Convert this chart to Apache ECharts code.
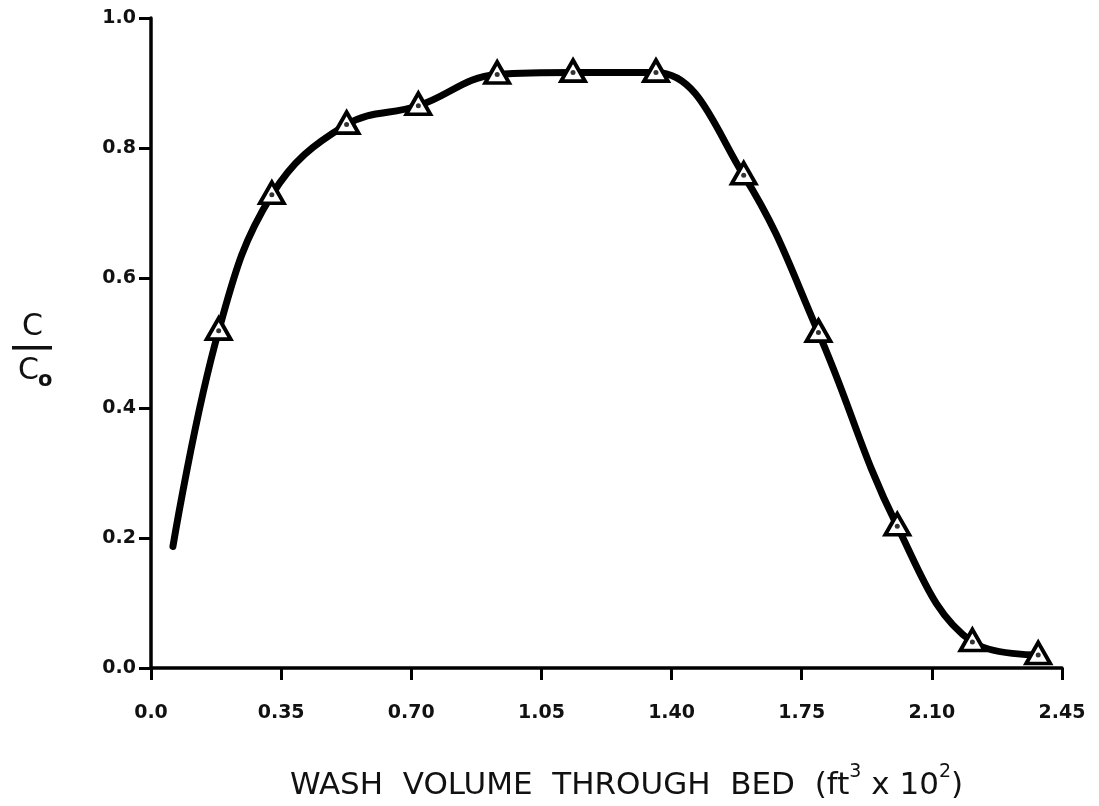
<!DOCTYPE html>
<html>
<head>
<meta charset="utf-8">
<title>Wash volume through bed</title>
<script src="https://cdn.jsdelivr.net/npm/echarts@6/dist/echarts.min.js"></script>
<style>
  html, body { margin: 0; padding: 0; background: #fff; }
  #chart { width: 1099px; height: 806px; }
</style>
</head>
<body>
<div id="chart"></div>
<script>
// Wash volume (ft^3 x 10^2) and relative concentration C/Co.
// The first point is where the drawn curve begins; it has no measured marker.
const washVolume = [0.059, 0.182, 0.325, 0.526, 0.719, 0.931, 1.135, 1.358, 1.594, 1.795, 2.007, 2.209, 2.386];
const concRatio  = [0.187, 0.519, 0.728, 0.836, 0.865, 0.913, 0.916, 0.916, 0.758, 0.516, 0.218, 0.040, 0.020];
const measured   = [false, true, true, true, true, true, true, true, true, true, true, true, true];

const xTickLabels = ['0.0', '0.35', '0.70', '1.05', '1.40', '1.75', '2.10', '2.45'];
const yTickLabels = ['0.0', '0.2', '0.4', '0.6', '0.8', '1.0'];

const FONT = 'DejaVu Sans';

const curve = washVolume.map((x, i) => [x, concRatio[i]]);
const points = curve.filter((p, i) => measured[i]);

const chart = echarts.init(document.getElementById('chart'), null, { renderer: 'canvas' });

chart.setOption({
  backgroundColor: '#ffffff',
  animation: false,
  grid: { left: 151, right: 37, top: 18, bottom: 131, containLabel: false },
  xAxis: {
    type: 'value',
    min: 0,
    max: 2.45,
    interval: 0.35,
    splitLine: { show: false },
    axisLine: { show: true, onZero: false, lineStyle: { color: '#000', width: 3.5 } },
    axisTick: { show: true, inside: false, length: 12, lineStyle: { color: '#000', width: 3 } },
    axisLabel: {
      margin: 36,
      color: '#111',
      fontFamily: FONT,
      fontWeight: 'bold',
      fontSize: 19,
      formatter: v => xTickLabels[Math.round(v / 0.35)]
    },
    name: '{t|WASH  VOLUME  THROUGH  BED  (ft}{sup|3}{t| x 10}{sup|2}{t|)}',
    nameLocation: 'middle',
    nameGap: 95,
    nameTextStyle: {
      padding: [0, 0, 0, 40],
      rich: {
        t: { fontFamily: FONT, fontSize: 31, color: '#111', verticalAlign: 'bottom', lineHeight: 38 },
        sup: { fontFamily: FONT, fontSize: 19, color: '#111', verticalAlign: 'top', padding: [0, 0, 15, 0], lineHeight: 38 }
      }
    }
  },
  yAxis: {
    type: 'value',
    min: 0,
    max: 1.0,
    interval: 0.2,
    splitLine: { show: false },
    axisLine: { show: true, onZero: false, lineStyle: { color: '#000', width: 3.5 } },
    axisTick: { show: true, inside: false, length: 12, lineStyle: { color: '#000', width: 3 } },
    axisLabel: {
      margin: 15,
      color: '#111',
      fontFamily: FONT,
      fontWeight: 'bold',
      fontSize: 19,
      formatter: v => yTickLabels[Math.round(v / 0.2)]
    }
  },
  graphic: [
    {
      type: 'group',
      left: 12,
      top: 312,
      children: [
        { type: 'text', left: 10, top: 0, style: { text: 'C', font: '30px "DejaVu Sans"', fill: '#111' } },
        { type: 'rect', shape: { x: 0, y: 34, width: 40, height: 3.5 }, style: { fill: '#111' } },
        { type: 'text', left: 6, top: 44, style: { text: 'C', font: '30px "DejaVu Sans"', fill: '#111' } },
        { type: 'text', left: 26, top: 58, style: { text: 'o', font: 'bold 21px "DejaVu Sans"', fill: '#111' } }
      ]
    }
  ],
  series: [
    {
      name: 'curve',
      type: 'line',
      data: curve,
      smooth: 0.4,
      showSymbol: false,
      symbol: 'none',
      lineStyle: { color: '#000', width: 7, cap: 'round', join: 'round' },
      z: 2
    },
    {
      name: 'measured',
      type: 'scatter',
      data: points,
      symbol: 'triangle',
      symbolSize: [24, 21],
      symbolOffset: [0, -2],
      itemStyle: { color: '#fff', borderColor: '#000', borderWidth: 3.8, opacity: 1 },
      z: 3
    },
    {
      name: 'measuredDot',
      type: 'scatter',
      data: points,
      symbol: 'circle',
      symbolSize: 5,
      itemStyle: { color: '#000' },
      z: 4
    }
  ]
});
</script>
</body>
</html>
